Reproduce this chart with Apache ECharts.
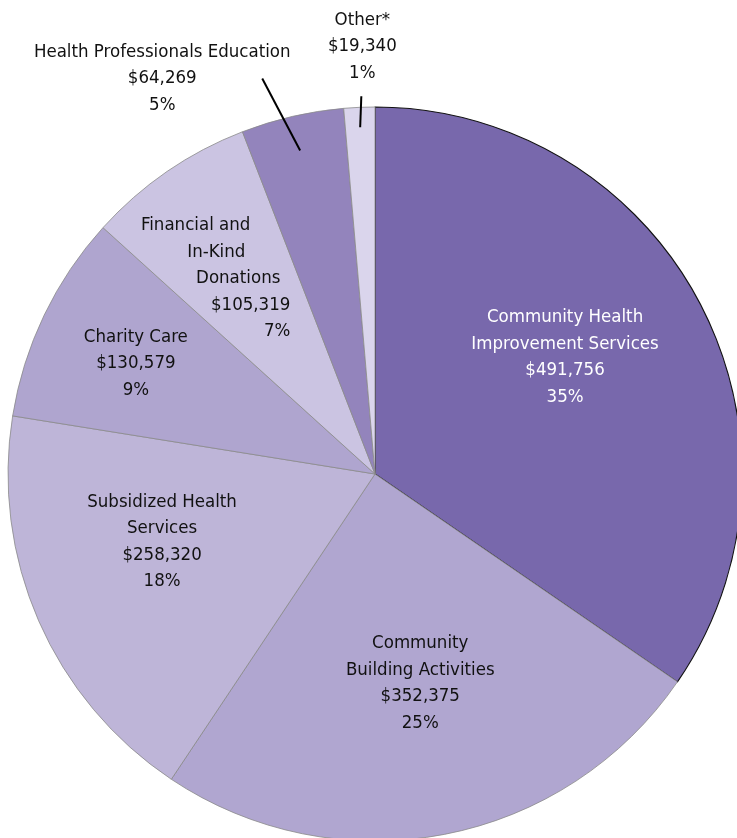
<!DOCTYPE html>
<html><head><meta charset="utf-8">
<script src="https://cdn.jsdelivr.net/npm/echarts@6/dist/echarts.min.js"></script>
<style>html,body{margin:0;padding:0;background:#fff}#c{width:737px;height:838px}</style>
</head><body><div id="c"></div>
<script>
// ---- data ----
const categories = [
  'Community Health\nImprovement Services',
  'Community\nBuilding Activities',
  'Subsidized Health\nServices',
  'Charity Care',
  'Financial and\nIn-Kind\nDonations',
  'Health Professionals Education',
  'Other*'
];
const amounts = [491756, 352375, 258320, 130579, 105319, 64269, 19340];

// ---- styles / layout ----
const colors = ['#7868AC', '#B0A6D0', '#BEB5D8', '#AFA5CF', '#CBC4E2', '#9384BC', '#DAD5EC'];
const borderColors = ['#111111', '#8a8a8a', '#8a8a8a', '#8a8a8a', '#8a8a8a', '#8a8a8a', '#8a8a8a'];
const textColors = ['#ffffff', '#111111', '#111111', '#111111', '#111111', '#111111', '#111111'];
const outside = [false, false, false, false, false, true, true];
// offset of label from its default library position
const labelOffsets = [[25, -30], [10, 26], [-42, -7], [-71, -30], [21, -42], [-130, -38], [3, -61]];
// leader line for outside labels: depth into slice, end point relative to label centre
const leader = {5: {depth: 35, end: [100, 0]}, 6: {depth: 20, end: [-1, 50]}};
const fikPad = [40, 45, 10, 0, 0];
const FONT = '"DejaVu Sans Condensed", "Liberation Sans Narrow", sans-serif';
const FS = 18.5, LH = 26.5;
const CENTER = [375, 474], RADIUS = 367;

const rich = {};
fikPad.forEach((p, i) => { rich['f' + i] = {fontFamily: FONT, fontSize: FS, lineHeight: LH, color: '#111111', padding: [0, p, 0, 0]}; });

const sliceData = categories.map((name, i) => ({
  name: name,
  value: amounts[i],
  itemStyle: {color: colors[i], borderColor: borderColors[i], borderWidth: i === 0 ? 1.1 : 0.8}
}));

const labelData = categories.map((name, i) => ({
  name: name,
  value: amounts[i],
  label: {position: outside[i] ? 'outside' : 'inside', color: textColors[i]},
  labelLine: {show: outside[i], length: 10, length2: 0, lineStyle: {color: '#000', width: 2}}
}));

const chart = echarts.init(document.getElementById('c'), null, {renderer: 'canvas'});
chart.setOption({
  animation: false,
  backgroundColor: '#ffffff',
  series: [{
    type: 'pie',
    z: 2,
    center: CENTER,
    radius: [0, RADIUS],
    startAngle: 90,
    clockwise: true,
    emphasis: {disabled: true},
    silent: true,
    label: {show: false},
    labelLine: {show: false},
    data: sliceData
  }, {
    type: 'pie',
    z: 5,
    center: CENTER,
    radius: [0, RADIUS],
    startAngle: 90,
    clockwise: true,
    avoidLabelOverlap: false,
    emphasis: {disabled: true},
    silent: true,
    itemStyle: {color: 'rgba(0,0,0,0)', borderWidth: 0},
    data: labelData,
    label: {
      show: true,
      fontFamily: FONT,
      fontSize: FS,
      lineHeight: LH,
      rich: rich,
      formatter: p => {
        const lines = p.name.split('\n').concat(['$' + p.value.toLocaleString('en-US'), Math.round(p.percent) + '%']);
        if (p.dataIndex === 4) return lines.map((l, i) => '{f' + i + '|' + l + '}').join('\n');
        return lines.join('\n');
      }
    },
    labelLayout: params => {
      const i = params.dataIndex;
      const off = labelOffsets[i];
      if (!outside[i]) {
        const r = params.labelRect;
        const cx = r.x + r.width / 2, cy = r.y + r.height / 2;
        if (i === 4) return {x: cx + off[0], y: cy + off[1], align: 'right', verticalAlign: 'middle'};
        return {x: cx + off[0], y: cy + off[1], align: 'center', verticalAlign: 'middle'};
      }
      const pts = params.labelLinePoints;
      const p0 = pts[0], p1 = pts[1];
      const dx = p0[0] - p1[0], dy = p0[1] - p1[1];
      const len = Math.sqrt(dx * dx + dy * dy) || 1;
      const spec = leader[i];
      const inner = [p0[0] + dx / len * spec.depth, p0[1] + dy / len * spec.depth];
      const lx = p0[0] + off[0], ly = p0[1] + off[1];
      return {
        x: lx, y: ly, align: 'center', verticalAlign: 'middle',
        labelLinePoints: [inner, [lx + spec.end[0], ly + spec.end[1]], [lx + spec.end[0], ly + spec.end[1]]]
      };
    }
  }]
});
</script>
</body></html>
